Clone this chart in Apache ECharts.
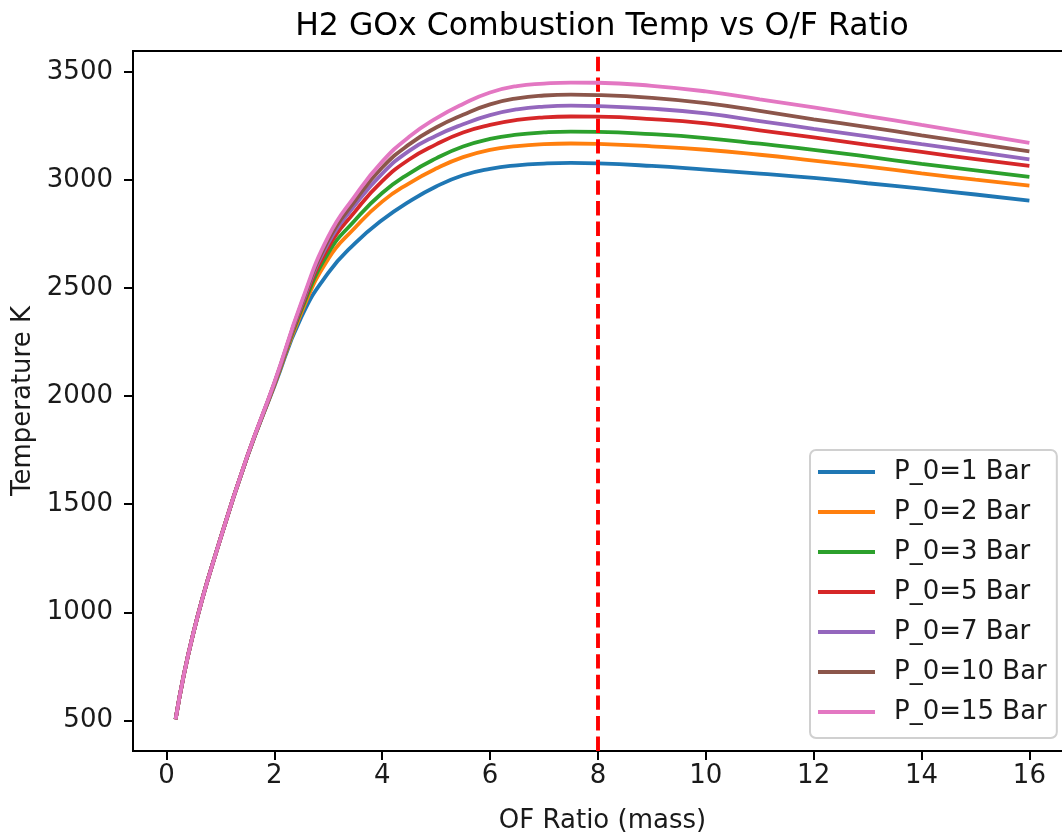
<!DOCTYPE html>
<html>
<head>
<meta charset="utf-8">
<script src="https://cdn.jsdelivr.net/npm/echarts@6/dist/echarts.min.js"></script>
<style>html,body{margin:0;padding:0;background:#fff;}#chart{width:1062px;height:834px;}</style>
</head>
<body>
<div id="chart"></div>
<script>
const ofRatio = [0.17, 0.5, 1, 1.5, 2, 2.5, 3, 3.5, 4, 4.5, 5, 5.5, 6, 6.5, 7, 7.5, 8, 9, 10, 11, 12, 13, 14, 15, 16];
const seriesNames = ['P_0=1 Bar', 'P_0=2 Bar', 'P_0=3 Bar', 'P_0=5 Bar', 'P_0=7 Bar', 'P_0=10 Bar', 'P_0=15 Bar'];
const temp1  = [505, 905, 1340, 1720, 2045, 2365, 2570, 2708, 2815, 2900, 2970, 3022, 3052, 3068, 3076, 3079, 3077, 3065, 3048, 3030, 3010, 2985, 2960, 2933, 2905];
const temp2  = [505, 905, 1340, 1721, 2050, 2385, 2635, 2780, 2900, 2985, 3053, 3106, 3140, 3157, 3166, 3169, 3167, 3156, 3140, 3117, 3090, 3062, 3031, 3002, 2974];
const temp3  = [505, 905, 1340, 1721, 2053, 2398, 2662, 2815, 2940, 3030, 3100, 3155, 3190, 3210, 3220, 3224, 3223, 3212, 3194, 3168, 3140, 3108, 3075, 3045, 3015];
const temp5  = [505, 905, 1340, 1722, 2056, 2410, 2688, 2855, 2995, 3095, 3165, 3220, 3255, 3278, 3290, 3294, 3293, 3282, 3262, 3230, 3197, 3163, 3130, 3097, 3065];
const temp7  = [505, 905, 1340, 1722, 2058, 2418, 2708, 2885, 3030, 3135, 3205, 3258, 3300, 3327, 3340, 3344, 3342, 3330, 3308, 3273, 3237, 3202, 3166, 3131, 3096];
const temp10 = [505, 905, 1340, 1722, 2060, 2425, 2722, 2905, 3058, 3165, 3243, 3302, 3350, 3378, 3391, 3395, 3393, 3380, 3356, 3320, 3281, 3245, 3207, 3170, 3132];
const temp15 = [505, 905, 1340, 1723, 2063, 2432, 2738, 2928, 3085, 3200, 3285, 3352, 3405, 3435, 3446, 3451, 3450, 3436, 3410, 3373, 3336, 3296, 3255, 3214, 3172];
const xTicks = [0, 2, 4, 6, 8, 10, 12, 14, 16];
const yTicks = [500, 1000, 1500, 2000, 2500, 3000, 3500];
const vlineX = 8;

const allTemps = [temp1, temp2, temp3, temp5, temp7, temp10, temp15];
const colors = ['#1f77b4', '#ff7f0e', '#2ca02c', '#d62728', '#9467bd', '#8c564b', '#e377c2'];
const FONT = 'DejaVu Sans';

const chart = echarts.init(document.getElementById('chart'), null, {renderer: 'canvas'});

const series = allTemps.map((arr, i) => ({
  name: seriesNames[i],
  type: 'line',
  data: ofRatio.map((x, j) => [x, arr[j]]),
  smooth: 0.5,
  showSymbol: false,
  symbol: 'none',
  lineStyle: {width: 3.8, color: colors[i]},
  itemStyle: {color: colors[i]},
  z: 2 + i,
  animation: false
}));
series.push({
  name: 'vline',
  type: 'line',
  data: [],
  z: 20,
  animation: false,
  markLine: {
    silent: true,
    symbol: 'none',
    animation: false,
    label: {show: false},
    lineStyle: {color: '#ff0000', width: 3.9, type: [14.4, 6.2], cap: 'butt'},
    data: [{xAxis: vlineX}]
  }
});

chart.setOption({
  animation: false,
  backgroundColor: '#ffffff',
  title: {
    text: 'H2 GOx Combustion Temp vs O/F Ratio',
    left: 597,
    top: 6,
    textAlign: 'center',
    textStyle: {fontFamily: FONT, fontSize: 31.5, fontWeight: 'normal', color: '#000'}
  },
  grid: {
    left: 133, top: 51, width: 939, bottom: 83,
    outerBoundsMode: 'none',
    containLabel: false,
    show: true, borderColor: '#000', borderWidth: 2, backgroundColor: 'transparent'
  },
  legend: {
    data: seriesNames,
    orient: 'vertical',
    left: 810, top: 450,
    icon: 'rect',
    itemWidth: 57, itemHeight: 4,
    itemGap: 12,
    padding: [8, 10, 12, 8],
    backgroundColor: '#ffffff',
    borderColor: '#d0d0d0',
    borderWidth: 2,
    borderRadius: 6,
    textStyle: {fontFamily: FONT, fontSize: 26, color: '#1a1a1a', lineHeight: 28, padding: [0, 0, 0, 14]}
  },
  xAxis: {
    type: 'value',
    min: -0.62, max: 16.79,
    name: 'OF Ratio (mass)',
    nameLocation: 'middle',
    nameGap: 57,
    nameTextStyle: {fontFamily: FONT, fontSize: 26, color: '#1a1a1a'},
    axisLine: {show: true, onZero: false, lineStyle: {color: '#000', width: 2}},
    axisTick: {show: true, customValues: xTicks, length: 9, lineStyle: {color: '#000', width: 2}},
    axisLabel: {customValues: xTicks, fontFamily: FONT, fontSize: 26, color: '#1a1a1a', margin: 12},
    splitLine: {show: false}
  },
  yAxis: {
    type: 'value',
    min: 358, max: 3597,
    name: 'Temperature K',
    nameLocation: 'middle',
    nameGap: 97,
    nameTextStyle: {fontFamily: FONT, fontSize: 26, color: '#1a1a1a'},
    axisLine: {show: true, onZero: false, lineStyle: {color: '#000', width: 2}},
    axisTick: {show: true, customValues: yTicks, length: 9, lineStyle: {color: '#000', width: 2}},
    axisLabel: {customValues: yTicks, formatter: v => String(v), fontFamily: FONT, fontSize: 26, color: '#1a1a1a', margin: 20},
    splitLine: {show: false}
  },
  series: series
});
</script>
</body>
</html>
